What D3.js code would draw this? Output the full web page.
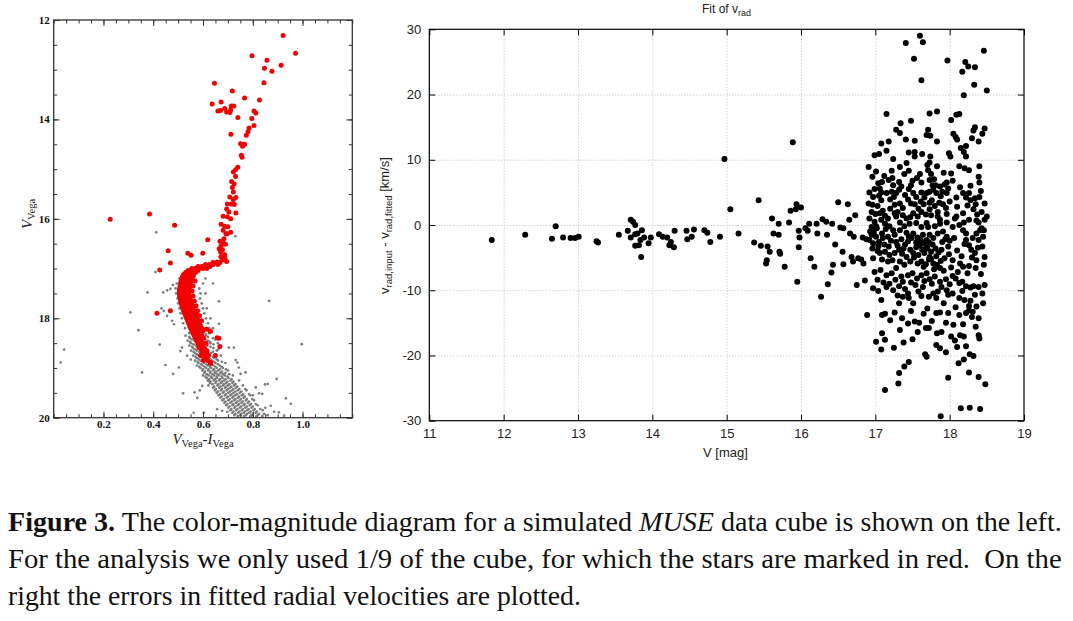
<!DOCTYPE html>
<html><head><meta charset="utf-8">
<script src="https://cdn.jsdelivr.net/npm/d3@7"></script>
<style>body{margin:0;background:#fff}svg{display:block}</style>
</head><body>
<svg id="c" width="1073" height="621"></svg>
<script>
// ---------------- DATA ----------------
// Left panel: colour-magnitude diagram  [V-I, V]
const cmdXTicks = [0.2, 0.4, 0.6, 0.8, 1.0];
const cmdYTicks = [12, 14, 16, 18, 20];

const grayOutliers = [
[0.412,16.27],[0.409,17.07],[0.377,17.48],[0.308,17.88],[0.341,18.24],[0.426,18.53],[0.449,18.94],[0.355,19.09],[0.480,19.12],[0.520,19.51],
[0.042,18.63],[0.028,18.89],[0.866,17.65],[0.997,18.52],[0.730,16.35],[0.664,17.66],[0.664,18.11],[0.724,18.59],[0.704,18.59],[0.896,19.22],
[0.933,19.61],[0.953,19.72],[0.849,19.33],[0.860,19.32],[0.812,19.39],[0.731,18.84],[0.738,18.89],[0.744,18.99],[0.751,19.12],[0.771,19.09],
[0.623,19.26],[0.597,19.36],[0.587,19.45],[0.577,19.60],[0.657,19.83],[0.677,19.86],[0.698,19.88],[0.563,19.90],[0.440,17.48],[0.456,17.44],
[0.469,17.41],[0.479,17.33],[0.433,17.80],[0.442,17.85],[0.456,17.95],[0.476,18.05],[0.483,18.12],[0.516,18.59],[0.509,18.66],[0.536,18.75],
[0.551,18.83],[0.503,18.99],[0.566,19.49],[0.603,19.90],[0.886,19.88],[0.905,19.89],[0.926,19.96],[0.872,19.76],[0.850,19.80],[0.825,19.51],
[0.838,19.52],[0.800,19.55]
];
// main sequence rows: [V, [colours]]
const grayRows = [
[17.20,[0.505,0.610]],[17.30,[0.495,0.600,0.640]],[17.40,[0.490,0.585]],[17.50,[0.492,0.590,0.610]],[17.60,[0.498,0.588]],
[17.70,[0.500,0.595]],[17.80,[0.505,0.600,0.615]],[17.90,[0.510,0.605]],[18.00,[0.515,0.612,0.630]],[18.10,[0.520,0.620]],[18.20,[0.528,0.625,0.640]],
[18.30,[0.545,0.575,0.600,0.625]],[18.325,[0.558,0.588,0.612]],[18.35,[0.530,0.560,0.590,0.612]],[18.375,[0.545,0.578,0.620]],
[18.40,[0.548,0.570,0.603,0.640]],[18.425,[0.556,0.585,0.610,0.650]],[18.45,[0.538,0.566,0.588,0.620]],[18.475,[0.548,0.574,0.602,0.628]],
[18.50,[0.552,0.578,0.597,0.630,0.660]],[18.525,[0.562,0.588,0.615,0.642]],[18.55,[0.545,0.571,0.605,0.618]],[18.575,[0.556,0.580,0.598,0.630]],
[18.60,[0.560,0.585,0.610,0.642]],[18.625,[0.568,0.594,0.618,0.662]],[18.65,[0.552,0.575,0.598,0.622,0.655]],[18.675,[0.562,0.585,0.608,0.640]],
[18.70,[0.568,0.590,0.615,0.633]],[18.725,[0.575,0.600,0.622,0.648]],[18.75,[0.560,0.583,0.602,0.628,0.672]],[18.775,[0.570,0.592,0.614,0.640]],
[18.80,[0.575,0.596,0.620,0.645]],[18.825,[0.583,0.606,0.630,0.655]],[18.85,[0.568,0.590,0.612,0.636,0.660]],[18.875,[0.578,0.600,0.622,0.645,0.675]],
[18.90,[0.582,0.604,0.625,0.650,0.690]],[18.925,[0.592,0.614,0.636,0.660]],[18.95,[0.576,0.598,0.618,0.642,0.667]],[18.975,[0.585,0.606,0.628,0.650,0.675]],
[19.00,[0.590,0.612,0.633,0.655,0.680]],[19.025,[0.600,0.622,0.644,0.668,0.692]],[19.05,[0.598,0.620,0.641,0.662,0.700]],[19.075,[0.608,0.630,0.652,0.676]],
[19.10,[0.605,0.628,0.648,0.670,0.690]],[19.125,[0.615,0.638,0.658,0.680,0.705]],[19.15,[0.600,0.622,0.645,0.665,0.688,0.720]],[19.175,[0.610,0.632,0.655,0.676,0.698]],
[19.20,[0.615,0.637,0.656,0.678,0.702]],[19.225,[0.625,0.648,0.668,0.690,0.715]],[19.25,[0.620,0.643,0.664,0.685,0.710,0.745]],[19.275,[0.630,0.653,0.676,0.698,0.722]],
[19.30,[0.628,0.650,0.672,0.693,0.718]],[19.325,[0.638,0.662,0.684,0.706,0.730]],[19.35,[0.622,0.658,0.680,0.700,0.725,0.760]],[19.375,[0.645,0.670,0.692,0.714,0.738]],
[19.40,[0.640,0.665,0.688,0.708,0.732]],[19.425,[0.652,0.676,0.700,0.722,0.746,0.770]],[19.45,[0.648,0.672,0.695,0.716,0.740,0.775]],[19.475,[0.660,0.684,0.708,0.730,0.754]],
[19.50,[0.655,0.680,0.702,0.723,0.748]],[19.525,[0.668,0.692,0.715,0.737,0.762,0.785]],[19.55,[0.662,0.688,0.710,0.730,0.756,0.790]],[19.575,[0.675,0.700,0.722,0.745,0.768]],
[19.60,[0.670,0.695,0.718,0.740,0.763]],[19.625,[0.683,0.707,0.730,0.752,0.776,0.798]],[19.65,[0.678,0.702,0.725,0.748,0.772,0.805]],[19.675,[0.690,0.715,0.738,0.760,0.784]],
[19.70,[0.686,0.710,0.733,0.755,0.780]],[19.725,[0.698,0.722,0.745,0.768,0.792,0.812]],[19.75,[0.693,0.718,0.740,0.763,0.788,0.820]],[19.775,[0.706,0.730,0.753,0.776,0.800]],
[19.80,[0.702,0.726,0.748,0.770,0.795]],[19.825,[0.714,0.738,0.760,0.783,0.808,0.830]],[19.85,[0.710,0.733,0.756,0.778,0.803,0.840]],[19.875,[0.722,0.746,0.768,0.791,0.816]],
[19.90,[0.718,0.742,0.764,0.786,0.812]],[19.925,[0.730,0.754,0.777,0.800,0.825,0.845]],[19.95,[0.726,0.750,0.772,0.795,0.820,0.860]],[19.97,[0.740,0.765,0.790,0.815,0.838]]
];
const redStars = [
[0.922,12.31],[0.972,12.67],[0.797,12.72],[0.857,12.81],[0.847,12.97],[0.877,13.03],[0.914,12.91],[0.845,13.26],[0.827,13.61],[0.767,13.57],
[0.646,13.27],[0.718,13.43],[0.637,13.69],[0.673,13.65],[0.660,13.83],[0.670,13.82],[0.687,13.78],[0.695,13.85],[0.711,13.81],[0.708,13.86],
[0.724,13.73],[0.714,13.73],[0.740,13.96],[0.805,13.83],[0.812,13.87],[0.796,13.98],[0.805,14.12],[0.785,14.17],[0.781,14.25],[0.774,14.32],
[0.712,14.30],[0.751,14.49],[0.767,14.50],[0.759,14.54],[0.754,14.72],[0.757,14.76],[0.740,14.96],[0.731,15.01],[0.722,15.06],[0.731,15.15],
[0.718,15.37],[0.722,15.46],[0.708,15.56],[0.722,15.61],[0.732,15.57],[0.698,15.70],[0.714,15.70],[0.726,15.71],[0.695,15.80],[0.704,15.86],
[0.732,15.88],[0.681,15.95],[0.698,15.96],[0.711,16.00],[0.673,16.11],[0.687,16.15],[0.700,16.16],[0.681,16.23],[0.692,16.30],[0.711,16.27],
[0.619,16.42],[0.227,16.01],[0.385,15.90],[0.486,16.13],[0.715,15.25],[0.725,15.30],
[0.697,16.30],[0.684,16.40],[0.673,16.54],[0.690,16.51],[0.671,16.67],[0.687,16.72],[0.677,16.83],[0.695,16.86],[0.657,16.87],[0.668,16.45],
[0.680,16.47],[0.665,16.60],[0.678,16.62],[0.672,16.76],[0.688,16.78],
[0.460,16.64],[0.539,16.69],[0.552,16.73],[0.599,16.69],[0.469,16.89],[0.426,17.03],[0.415,17.90],[0.469,17.85],[0.614,18.22],[0.630,18.26],
[0.657,18.39],[0.668,18.57],[0.650,18.75],[0.616,18.69],[0.630,18.89],[0.602,18.85],[0.590,18.75],[0.583,18.59],[0.570,17.88],[0.583,17.95],
[0.664,18.40],[0.630,18.91],[0.616,18.79]
];
// subgiant / lower branch rows of red stars: [V, [colours]]
const redRows = [
[16.88,[0.640,0.655,0.668]],[16.92,[0.610,0.625,0.640,0.660]],[16.96,[0.580,0.595,0.610,0.628]],[17.00,[0.555,0.568,0.582,0.600,0.615]],
[17.04,[0.540,0.552,0.565,0.580]],[17.08,[0.530,0.542,0.556,0.570]],[17.12,[0.522,0.535,0.548,0.562]],[17.16,[0.518,0.530,0.545,0.560]],
[17.20,[0.515,0.528,0.540,0.555]],[17.25,[0.512,0.525,0.538,0.552,0.568]],[17.30,[0.510,0.522,0.535,0.550]],[17.35,[0.508,0.520,0.533,0.547,0.560]],
[17.40,[0.506,0.518,0.532,0.545]],[17.45,[0.505,0.517,0.530,0.544,0.556]],[17.50,[0.505,0.518,0.530,0.542]],[17.55,[0.506,0.519,0.532,0.546,0.560]],
[17.60,[0.508,0.520,0.534,0.548]],[17.65,[0.510,0.523,0.536,0.550,0.565]],[17.70,[0.512,0.526,0.540,0.553]],[17.75,[0.515,0.529,0.543,0.557,0.572]],
[17.80,[0.518,0.532,0.546,0.560]],[17.85,[0.522,0.536,0.550,0.564,0.578]],[17.90,[0.526,0.540,0.554,0.568]],[17.95,[0.530,0.544,0.558,0.572,0.586]],
[18.00,[0.534,0.548,0.562,0.576]],[18.05,[0.538,0.552,0.566,0.580,0.594]],[18.10,[0.542,0.556,0.570,0.585]],[18.15,[0.546,0.560,0.575,0.590]],
[18.20,[0.550,0.565,0.580,0.596]],[18.25,[0.555,0.570,0.585,0.600]],[18.30,[0.560,0.575,0.590]],[18.35,[0.565,0.580,0.596]],
[18.40,[0.570,0.586,0.602]],[18.45,[0.575,0.590]],[18.50,[0.580,0.596,0.612]],[18.55,[0.585,0.600]],[18.60,[0.590,0.606]],
[18.65,[0.595,0.612]],[18.70,[0.600]],[18.75,[0.605,0.622]],[18.80,[0.612]],[18.85,[0.618]]
];

// Right panel: fit of v_rad   [V mag, v_input - v_fitted km/s]
const vXTicks = [11,12,13,14,15,16,17,18,19];
const vYTicks = [-30,-20,-10,0,10,20,30];
const vradBright = [
[11.84,-2.3],[12.29,-1.5],[12.70,-0.2],[12.65,-2.1],[12.80,-1.9],[12.90,-2.0],[12.96,-2.0],[13.01,-1.8],[13.25,-2.5],[13.27,-2.7],
[13.55,-1.5],[13.67,-0.9],[13.71,0.8],[13.74,0.5],[13.77,0.0],[13.71,-1.9],[13.77,-1.4],[13.80,-1.3],[13.77,-3.2],[13.82,-3.1],
[13.84,-2.3],[13.86,-0.8],[13.85,-4.9],[13.89,-1.9],[13.95,-2.8],[13.98,-1.9],[14.09,-1.4],[14.14,-1.8],[14.20,-1.9],[14.25,-2.6],
[14.23,-3.1],[14.29,-3.4],[14.30,-0.9],[14.46,-0.9],[14.47,-2.2],[14.53,-1.8],[14.56,-0.7],[14.70,-0.8],[14.74,-1.2],[14.78,-2.6],
[14.91,-1.8],[14.97,10.1],[15.05,2.4],[15.16,-1.3],[15.37,-2.7],[15.43,3.8],[15.46,-3.2],[15.55,-3.3],[15.58,-4.1],[15.54,-5.4],
[15.53,-5.9],[15.61,1.0],[15.63,-1.3],[15.70,-1.5],[15.70,0.2],[15.71,-4.1],[15.72,-4.4],[15.78,-6.4],[15.84,0.4],[15.86,2.2],
[15.89,12.7],[15.94,3.2],[16.00,2.7],[15.93,2.4],[15.97,-0.9],[15.98,-1.9],[15.97,-3.4],[15.95,-8.7],[16.06,-0.5],[16.11,0.2],
[16.09,-0.9],[16.13,-5.1],[16.18,-6.4],[16.21,0.2],[16.22,-1.3],[16.27,-11.0],[16.29,0.9],[16.34,0.5],[16.35,-1.5],[16.36,-9.1],
[16.41,-7.3],[16.42,0.2],[16.43,-6.1],[16.46,-3.0],[16.50,3.5],[16.53,-0.4],[16.57,-0.5],[16.56,-4.1],[16.57,-6.0],[16.63,3.2],
[16.65,0.8],[16.66,-1.3],[16.68,-4.9],[16.71,-1.8],[16.73,1.5],[16.70,-5.6],[16.75,-9.2],[16.77,-5.1],[16.81,-5.3],[16.83,-1.9],
[16.86,-8.5],[16.84,-5.9],[16.89,-13.8]
];
const vradFaint = [
[17.15,17.0],[17.34,15.6],[17.48,16.0],[17.28,14.6],[17.33,14.1],[17.41,13.1],[17.53,12.9],[17.73,17.1],[17.83,17.4],[17.71,14.6],
[17.69,13.8],[17.74,13.7],[17.83,12.8],[18.02,16.1],[18.09,16.9],[18.13,17.0],[18.05,14.0],[18.08,13.5],[18.10,13.1],[18.34,15.0],
[18.32,14.5],[18.47,14.8],[18.44,14.0],[18.30,13.3],[18.39,12.8],[17.08,12.5],[17.18,12.8],
[16.99,10.7],[17.05,10.9],[17.15,11.4],[17.24,10.1],[17.45,11.1],[17.53,11.2],[17.53,10.5],[17.63,10.9],[17.74,10.5],[17.73,9.6],
[17.33,8.9],[17.22,8.3],[17.45,8.3],[17.39,7.8],[17.56,7.2],[17.71,8.4],[17.75,7.8],[17.83,9.0],[17.99,11.0],[18.01,10.5],
[18.02,7.9],[18.13,9.0],[18.15,11.8],[18.22,12.1],[18.19,11.2],[18.22,10.5],[18.20,8.7],[18.26,8.4],[18.40,9.0],[18.39,7.4],
[18.40,6.5],[16.91,8.9],[17.01,8.2],[16.96,7.4],[17.04,6.4],[17.09,6.6],[17.18,6.9],[17.32,6.6],[17.24,6.1],[16.92,5.0],
[17.48,6.1],[17.62,6.5],[17.73,6.9],[17.77,6.1],[17.81,6.1],[17.87,5.9],[17.93,6.2],[17.96,6.5],[17.98,5.6],
[16.99,5.5],[17.06,5.6],[17.08,5.0],[16.97,4.3],[16.91,3.3],[16.96,3.1],[17.03,2.9],[17.08,3.8],[17.15,4.9],[17.22,5.1],
[17.25,4.3],[17.28,4.9],[17.32,5.4],[17.45,5.5],[17.51,4.9],[17.55,4.3],[17.62,5.0],[17.69,4.9],[17.73,5.1],[17.78,5.4],
[17.82,4.9],[17.90,5.1],[17.96,4.9],[17.20,3.9],[17.26,3.1],[17.33,3.3],[17.37,2.6],[17.44,3.9],[17.48,3.3],[17.53,3.2],
[17.61,3.6],[17.65,3.2],[17.73,3.4],[17.80,2.9],[17.86,3.4],[17.91,3.2],[18.09,4.2],[18.18,4.9],[18.22,4.2],[18.26,4.9],
[18.28,3.8],[18.34,4.1],[18.35,3.2],[18.40,4.3],[18.32,2.4],[18.43,2.0],[18.50,1.3],[16.95,2.0],[17.00,1.7],[17.06,1.8],
[16.92,1.0],[16.99,0.5],[17.08,0.8],[17.13,1.4],[17.17,1.0],[17.26,1.8],[17.28,1.3],[17.37,1.5],[17.42,1.0],[17.51,1.8],
[17.57,1.3],[17.62,2.0],[17.73,2.4],[17.75,1.5],[17.84,1.3],[17.87,0.8],[17.96,1.7],[18.07,1.0],[18.09,1.3],[17.96,0.4],
[18.19,0.4],[18.26,0.8],[18.36,0.7],[18.39,0.4],[18.47,0.8],[18.43,-0.5],[16.95,-0.3],[17.01,-0.2],[17.13,0.2],[17.19,-0.2],
[17.33,0.4],[17.39,-0.2],[17.46,0.2],[17.55,0.3],[17.62,-0.3],[17.69,0.3],[17.71,-0.3],[17.80,-0.2],[17.87,0.2],[18.13,0.0],
[18.04,-0.3],
[16.97,-0.8],[16.95,-1.5],[17.01,-1.8],[16.92,-2.3],[16.88,-2.2],[16.97,-2.8],[17.04,-3.3],[16.96,-3.6],[17.09,-1.3],[17.17,-1.8],
[17.24,-0.8],[17.26,-1.5],[17.33,-0.8],[17.42,-1.2],[17.45,-1.8],[17.51,-1.3],[17.57,-1.9],[17.61,-2.3],[17.64,-1.5],[17.69,-2.3],
[17.73,-1.5],[17.78,-2.0],[17.84,-1.3],[17.91,-1.0],[17.96,-1.8],[17.90,-2.6],[18.00,-2.4],[18.18,-0.8],[18.22,-1.3],[18.22,-2.3],
[18.26,-3.1],[18.29,-3.8],[18.36,-1.3],[18.41,-0.8],[18.46,-0.8],[18.39,-2.3],[18.44,-3.3],[18.34,-4.3],[18.47,-4.9],[17.06,-4.3],
[17.13,-4.1],[17.19,-4.6],[17.26,-4.3],[17.32,-3.8],[17.38,-3.6],[17.42,-4.9],[17.51,-4.3],[17.55,-3.4],[17.63,-3.8],[17.69,-3.3],
[17.73,-4.9],[17.75,-4.1],[17.82,-4.8],[17.89,-3.8],[17.93,-5.1],[17.98,-3.3],[16.97,-5.1],[17.09,-5.3],[17.17,-5.6],[17.23,-5.4],
[17.33,-5.6],[17.39,-6.1],[17.47,-5.6],[17.57,-5.9],[17.65,-6.4],[17.72,-5.3],[17.78,-5.9],[17.83,-6.1],[17.87,-6.6],[18.04,-5.4],
[18.14,-5.9],[18.18,-6.4],[18.26,-6.3],[18.36,-5.4],[18.35,-6.6],[18.46,-6.1],
[16.99,-7.2],[17.07,-6.9],[17.15,-7.7],[17.22,-7.4],[17.28,-6.6],[17.35,-7.9],[17.44,-7.7],[17.50,-7.4],[17.56,-8.2],[17.62,-7.7],
[17.69,-7.4],[17.73,-8.3],[17.80,-7.9],[17.87,-8.7],[17.95,-8.3],[18.04,-7.8],[18.08,-8.2],[18.13,-8.9],[18.17,-8.7],[18.22,-9.4],
[18.28,-9.6],[18.32,-9.4],[18.39,-9.5],[18.47,-9.2],[16.97,-9.7],[17.04,-10.1],[17.15,-9.5],[17.24,-10.0],[17.32,-9.4],[17.37,-8.7],
[17.44,-10.5],[17.54,-9.2],[17.64,-9.5],[17.72,-11.0],[17.78,-10.5],[17.89,-9.5],[17.96,-10.0],[18.04,-10.5],[18.13,-11.2],[18.20,-11.5],
[18.34,-10.7],[18.45,-12.0],[17.08,-11.5],[17.32,-12.0],[17.37,-11.0],[17.45,-11.2],[17.51,-12.0],[17.62,-10.9],[17.82,-11.2],[17.98,-10.7],
[17.09,-13.8],[17.13,-13.6],[17.26,-13.4],[17.36,-14.3],[17.44,-15.1],[17.53,-14.8],[17.59,-15.0],[17.68,-15.8],[17.72,-15.8],[17.82,-13.5],
[17.87,-13.4],[17.98,-13.5],[18.05,-15.3],[18.13,-13.8],[18.22,-13.5],[18.26,-13.1],[18.30,-14.1],[18.39,-14.3],[18.26,-12.4],[18.31,-13.3],
[17.01,-17.9],[17.09,-16.6],[17.13,-17.6],[17.08,-19.1],[17.33,-16.1],[17.38,-18.0],[17.57,-16.4],[17.67,-19.8],[17.69,-20.2],[17.83,-16.6],
[17.89,-16.4],[17.82,-18.4],[17.87,-18.9],[18.02,-17.1],[18.07,-17.7],[18.10,-18.7],[18.14,-16.9],[18.19,-17.1],[18.39,-16.9],[18.40,-17.4]
];
const vradFaintCore = [
[16.93,-1.0],[16.98,-1.2],[17.02,-0.5],[17.05,-2.6],[17.10,-2.0],[17.12,-3.0],[17.03,-4.0],[17.14,-0.6],[17.18,-3.3],[17.21,-2.4],
[17.28,-2.6],[17.30,-3.2],[17.35,-2.2],[17.36,-4.4],[17.40,-3.0],[17.44,-2.5],[17.47,-3.8],[17.49,-2.0],[17.52,-5.0],[17.55,-2.7],
[17.58,-4.6],[17.60,-3.1],[17.62,-5.6],[17.65,-2.8],[17.66,-4.3],[17.68,-6.0],[17.70,-3.6],[17.72,-2.7],[17.75,-5.2],[17.77,-3.0],
[17.79,-6.8],[17.81,-3.6],[17.85,-4.2],[17.88,-5.5],[17.92,-7.0],[17.94,-2.2],[17.99,-4.5],[18.02,-6.5],[18.06,-2.0],[18.10,-3.9],
[18.11,-7.2],[18.16,-4.8],[18.20,-2.9],[18.24,-7.4],[18.30,-5.0],[18.31,-2.0],[18.38,-3.5],[18.42,-7.5],[18.45,-1.8],
[17.05,4.5],[17.10,2.2],[17.12,7.5],[17.20,2.5],[17.23,7.2],[17.30,2.0],[17.35,5.9],[17.40,4.6],[17.42,9.5],[17.47,1.2],
[17.50,6.8],[17.58,2.5],[17.60,7.8],[17.66,4.2],[17.68,1.6],[17.70,9.2],[17.76,3.8],[17.79,7.0],[17.84,2.0],[17.88,4.4],
[17.92,8.0],[17.95,2.6],[18.00,3.6],[18.04,6.8],[18.10,2.8],[18.14,5.8],[18.18,1.8],[18.24,3.0],[18.28,6.0],[18.37,1.6],
[18.42,5.2],[18.47,3.3],
[17.03,-8.4],[17.11,-8.8],[17.19,-9.0],[17.27,-8.4],[17.30,-10.8],[17.40,-9.8],[17.48,-8.8],[17.58,-10.2],[17.66,-8.6],[17.70,-12.8],
[17.76,-9.0],[17.84,-10.2],[17.92,-12.0],[18.00,-9.1],[18.08,-12.6],[18.17,-10.1],[18.28,-11.6],[18.36,-12.5],[18.44,-10.5],[17.20,-14.6],
[17.48,-13.2],[17.65,-13.6],[17.76,-14.7],[17.95,-15.0],[18.18,-15.2],[18.35,-15.6],[17.25,-18.8],[17.50,-17.5],[17.95,-19.5],[18.22,-18.6]
];
const vradOutliers = [
[17.41,27.9],[17.60,29.0],[17.64,28.0],[17.52,25.5],[17.62,22.2],[17.97,25.2],[18.21,25.0],[18.17,23.5],[18.25,24.3],[18.34,24.2],
[18.46,26.7],[18.33,21.5],[18.50,20.6],[18.19,19.9],
[17.88,-29.3],[18.15,-28.1],[18.27,-28.0],[18.41,-28.2],[17.13,-25.3],[17.31,-24.3],[17.32,-22.7],[17.39,-21.7],[17.45,-21.0],[17.98,-23.4],
[18.12,-21.2],[18.19,-20.6],[18.26,-22.6],[18.39,-23.3],[18.48,-24.4],[18.32,-20.1],[18.27,-19.8]
];

const captionLines = [
  [{t:"Figure 3.",w:"bold"},{t:" The color-magnitude diagram for a simulated "},{t:"MUSE",s:"italic"},{t:" data cube is shown on the left."}],
  [{t:"For the analysis we only used 1/9 of the cube, for which the stars are marked in red.  On the"}],
  [{t:"right the errors in fitted radial velocities are plotted."}]
];

// ---------------- DRAW ----------------
const svg = d3.select("#c");
svg.append("rect").attr("width",1073).attr("height",621).attr("fill","#fff");

// ===== Left panel =====
const L = {x0:53.7, x1:352.3, y0:20, y1:417.7};
const lx = d3.scaleLinear().domain([0,1.2]).range([L.x0,L.x1]);
const ly = d3.scaleLinear().domain([12,20]).range([L.y0,L.y1]);
const gl = svg.append("g");

const grayAll = grayOutliers.concat(grayRows.flatMap(([m,cs]) => cs.map(c => [c,m])));
const redAll = redStars.concat(redRows.flatMap(([m,cs]) => cs.map(c => [c,m])));

gl.append("g").selectAll("circle").data(grayAll).join("circle")
  .attr("cx",d=>lx(d[0])).attr("cy",d=>ly(d[1])).attr("r",1.35).attr("fill","#7c7c7c");
gl.append("g").selectAll("circle").data(redAll).join("circle")
  .attr("cx",d=>lx(d[0])).attr("cy",d=>ly(d[1])).attr("r",2.5).attr("fill","#f00000");

const serifTick = g => g.selectAll("text").attr("font-family","'Liberation Serif','DejaVu Serif',serif")
  .attr("font-weight","bold").attr("font-size",11).attr("fill","#111");
const cleanAxis = g => { g.select(".domain").remove(); g.selectAll("line").attr("stroke","#333"); };
const minorX = d3.range(0,1.2001,0.05).map(v=>+v.toFixed(2));
const minorY = d3.range(12,20.001,0.5);

gl.append("g").attr("transform",`translate(0,${L.y1})`)
  .call(d3.axisBottom(lx).tickValues(minorX).tickSize(-3.5).tickFormat("")).call(cleanAxis);
gl.append("g").attr("transform",`translate(0,${L.y1})`)
  .call(d3.axisBottom(lx).tickValues(cmdXTicks).tickSize(-6).tickPadding(3).tickFormat(d3.format(".1f")))
  .call(cleanAxis).call(serifTick);
gl.append("g").attr("transform",`translate(0,${L.y0})`)
  .call(d3.axisTop(lx).tickValues(minorX).tickSize(-3.5).tickFormat("")).call(cleanAxis);
gl.append("g").attr("transform",`translate(0,${L.y0})`)
  .call(d3.axisTop(lx).tickValues(cmdXTicks).tickSize(-6).tickFormat("")).call(cleanAxis);
gl.append("g").attr("transform",`translate(${L.x0},0)`)
  .call(d3.axisLeft(ly).tickValues(minorY).tickSize(-3.5).tickFormat("")).call(cleanAxis);
gl.append("g").attr("transform",`translate(${L.x0},0)`)
  .call(d3.axisLeft(ly).tickValues(cmdYTicks).tickSize(-6).tickPadding(4).tickFormat(d3.format("d")))
  .call(cleanAxis).call(serifTick);
gl.append("g").attr("transform",`translate(${L.x1},0)`)
  .call(d3.axisRight(ly).tickValues(minorY).tickSize(-3.5).tickFormat("")).call(cleanAxis);
gl.append("g").attr("transform",`translate(${L.x1},0)`)
  .call(d3.axisRight(ly).tickValues(cmdYTicks).tickSize(-6).tickFormat("")).call(cleanAxis);
gl.append("rect").attr("x",L.x0).attr("y",L.y0).attr("width",L.x1-L.x0).attr("height",L.y1-L.y0)
  .attr("fill","none").attr("stroke","#333").attr("stroke-width",1.3);

// left axis titles
const serif = "'Liberation Serif','DejaVu Serif',serif";
const xl = gl.append("text").attr("x",203).attr("y",444).attr("text-anchor","middle")
  .attr("font-family",serif).attr("font-size",15).attr("fill","#222");
xl.append("tspan").attr("font-style","italic").text("V");
xl.append("tspan").attr("font-size",10.5).attr("dy",3).text("Vega");
xl.append("tspan").attr("dy",-3).text("-");
xl.append("tspan").attr("font-style","italic").text("I");
xl.append("tspan").attr("font-size",10.5).attr("dy",3).text("Vega");
const yl = gl.append("text").attr("transform","translate(32,214) rotate(-90)").attr("text-anchor","middle")
  .attr("font-family",serif).attr("font-size",15).attr("fill","#222");
yl.append("tspan").attr("font-style","italic").text("V");
yl.append("tspan").attr("font-size",10.5).attr("dy",3).text("Vega");

// ===== Right panel =====
const R = {x0:429.3, x1:1024, y0:29.3, y1:420.7};
const rx = d3.scaleLinear().domain([11,19]).range([R.x0,R.x1]);
const ry = d3.scaleLinear().domain([-30,30]).range([R.y1,R.y0]);
const gr = svg.append("g");
const sans = "'Liberation Sans',Arial,sans-serif";

// grid
gr.append("g").attr("transform",`translate(0,${R.y1})`)
  .call(d3.axisBottom(rx).tickValues(vXTicks.slice(1,-1)).tickSize(-(R.y1-R.y0)).tickFormat(""))
  .call(g=>{g.select(".domain").remove(); g.selectAll("line").attr("stroke","#bdbdbd").attr("stroke-dasharray","1,2");});
gr.append("g").attr("transform",`translate(${R.x0},0)`)
  .call(d3.axisLeft(ry).tickValues(vYTicks.slice(1,-1)).tickSize(-(R.x1-R.x0)).tickFormat(""))
  .call(g=>{g.select(".domain").remove(); g.selectAll("line").attr("stroke","#bdbdbd").attr("stroke-dasharray","1,2");});

// points
gr.append("g").selectAll("circle").data(vradBright.concat(vradFaint, vradFaintCore, vradOutliers)).join("circle")
  .attr("cx",d=>rx(d[0])).attr("cy",d=>ry(d[1])).attr("r",3).attr("fill","#000");

const plain = d => String(d);
const sansTick = g => g.selectAll("text").attr("font-family",sans).attr("font-size",13).attr("fill","#222");
const blackAxis = g => { g.select(".domain").remove(); g.selectAll("line").attr("stroke","#000"); };
gr.append("g").attr("transform",`translate(0,${R.y1})`)
  .call(d3.axisBottom(rx).tickValues(vXTicks).tickSize(-6).tickPadding(8).tickFormat(plain))
  .call(blackAxis).call(sansTick);
gr.append("g").attr("transform",`translate(0,${R.y0})`)
  .call(d3.axisTop(rx).tickValues(vXTicks).tickSize(-6).tickFormat("")).call(blackAxis);
gr.append("g").attr("transform",`translate(${R.x0},0)`)
  .call(d3.axisLeft(ry).tickValues(vYTicks).tickSize(-6).tickPadding(8).tickFormat(plain))
  .call(blackAxis).call(sansTick);
gr.append("g").attr("transform",`translate(${R.x1},0)`)
  .call(d3.axisRight(ry).tickValues(vYTicks).tickSize(-6).tickFormat("")).call(blackAxis);
gr.append("rect").attr("x",R.x0).attr("y",R.y0).attr("width",R.x1-R.x0).attr("height",R.y1-R.y0)
  .attr("fill","none").attr("stroke","#000").attr("stroke-width",1.2);

// title
const tt = gr.append("text").attr("x",702).attr("y",13).attr("font-family",sans).attr("font-size",12).attr("fill","#222");
tt.append("tspan").text("Fit of v");
tt.append("tspan").attr("font-size",9).attr("dy",3).text("rad");
// x label
gr.append("text").attr("x",703).attr("y",457).attr("font-family",sans).attr("font-size",13).attr("fill","#222").text("V [mag]");
// y label
const ytl = gr.append("text").attr("transform","translate(389,225.5) rotate(-90)").attr("text-anchor","middle")
  .attr("font-family",sans).attr("font-size",13).attr("fill","#222");
ytl.append("tspan").text("v");
ytl.append("tspan").attr("font-size",9.5).attr("dy",3).text("rad,input");
ytl.append("tspan").attr("dy",-3).text(" - v");
ytl.append("tspan").attr("font-size",9.5).attr("dy",3).text("rad,fitted");
ytl.append("tspan").attr("dy",-3).text(" [km/s]");

// ===== Caption =====
const capWidths = [1054, 1054, 573];
const capBase = [531, 568, 605];
captionLines.forEach((parts,i) => {
  const t = svg.append("text").attr("x",0).attr("y",0)
    .attr("font-family","'Liberation Serif','Times New Roman',serif").attr("font-size",27).attr("fill","#111")
    .style("white-space","pre");
  parts.forEach(p => {
    const s = t.append("tspan").text(p.t);
    if (p.w) s.attr("font-weight",p.w);
    if (p.s) s.attr("font-style",p.s);
  });
  const w = t.node().getComputedTextLength();
  t.attr("transform",`translate(8,${capBase[i]}) scale(${capWidths[i]/w},1)`);
});
</script>
</body></html>
